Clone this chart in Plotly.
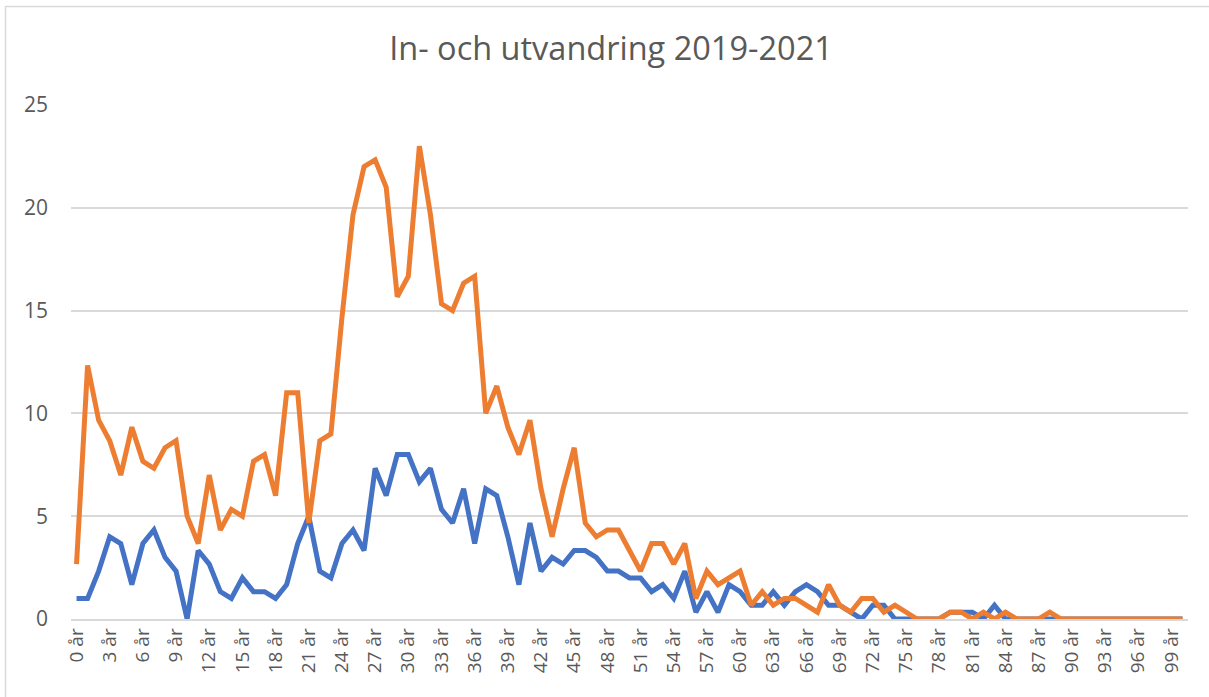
import plotly.graph_objects as go

ages = list(range(101))
categories = [f"{a} år" for a in ages]

utvandring = [
    1.0, 1.0, 2.33, 4.0, 3.67, 1.67, 3.67, 4.33, 3.0, 2.33,
    0.0, 3.33, 2.67, 1.33, 1.0, 2.0, 1.33, 1.33, 1.0, 1.67,
    3.67, 5.0, 2.33, 2.0, 3.67, 4.33, 3.33, 7.33, 6.0, 8.0,
    8.0, 6.67, 7.33, 5.33, 4.67, 6.33, 3.67, 6.33, 6.0, 4.0,
    1.67, 4.67, 2.33, 3.0, 2.67, 3.33, 3.33, 3.0, 2.33, 2.33,
    2.0, 2.0, 1.33, 1.67, 1.0, 2.33, 0.33, 1.33, 0.33, 1.67,
    1.33, 0.67, 0.67, 1.33, 0.67, 1.33, 1.67, 1.33, 0.67, 0.67,
    0.33, 0.0, 0.67, 0.67, 0.0, 0.0, 0.0, 0.0, 0.0, 0.33,
    0.33, 0.33, 0.0, 0.67, 0.0, 0.0, 0.0, 0.0, 0.0, 0.0,
    0.0, 0.0, 0.0, 0.0, 0.0, 0.0, 0.0, 0.0, 0.0, 0.0,
    0.0,
]

invandring = [
    2.67, 12.33, 9.67, 8.67, 7.0, 9.33, 7.67, 7.33, 8.33, 8.67,
    5.0, 3.67, 7.0, 4.33, 5.33, 5.0, 7.67, 8.0, 6.0, 11.0,
    11.0, 4.67, 8.67, 9.0, 14.67, 19.67, 22.0, 22.33, 21.0, 15.67,
    16.67, 23.0, 19.67, 15.33, 15.0, 16.33, 16.67, 10.0, 11.33, 9.33,
    8.0, 9.67, 6.33, 4.0, 6.33, 8.33, 4.67, 4.0, 4.33, 4.33,
    3.33, 2.33, 3.67, 3.67, 2.67, 3.67, 1.0, 2.33, 1.67, 2.0,
    2.33, 0.67, 1.33, 0.67, 1.0, 1.0, 0.67, 0.33, 1.67, 0.67,
    0.33, 1.0, 1.0, 0.33, 0.67, 0.33, 0.0, 0.0, 0.0, 0.33,
    0.33, 0.0, 0.33, 0.0, 0.33, 0.0, 0.0, 0.0, 0.33, 0.0,
    0.0, 0.0, 0.0, 0.0, 0.0, 0.0, 0.0, 0.0, 0.0, 0.0,
    0.0,
]

tick_labels = categories[::3]
title_text = "In- och utvandring 2019-2021"

FONT = "Open Sans"
GREY = "#595959"
GRID = "#d9d9d9"

fig = go.Figure()
fig.add_trace(go.Scatter(x=categories, y=utvandring, mode="lines", name="Utvandring",
                         line=dict(color="#4472C4", width=5)))
fig.add_trace(go.Scatter(x=categories, y=invandring, mode="lines", name="Invandring",
                         line=dict(color="#ED7D31", width=5)))

W, H = 1209, 697
L, R, T, B = 71, 21, 105, 78
pw, ph = W - L - R, H - T - B

fig.update_layout(
    width=W, height=H,
    margin=dict(l=L, r=R, t=T, b=B, autoexpand=False),
    paper_bgcolor="white", plot_bgcolor="white",
    showlegend=False,
    font=dict(family=FONT, color=GREY),
    title=dict(text=title_text, x=611 / W, xref="container", xanchor="center",
               y=1 - 49 / H, yref="container", yanchor="middle",
               font=dict(family=FONT, size=32.5, color=GREY)),
    xaxis=dict(type="category", tickmode="array", tickvals=tick_labels, ticktext=tick_labels,
               range=[-0.5, len(categories) - 0.5],
               tickangle=-90, tickfont=dict(size=19, color=GREY), showgrid=False,
               showline=True, linecolor=GRID, linewidth=1.5, ticks="", zeroline=False,
               automargin=False),
    yaxis=dict(range=[0, 25], dtick=5, showgrid=True, gridcolor=GRID, gridwidth=1.5,
               zeroline=False, showline=False, ticks="", tickfont=dict(size=21, color=GREY),
               ticklabelstandoff=22, automargin=False),
    shapes=[dict(type="rect", xref="paper", yref="paper",
                 x0=(5.5 - L) / pw, x1=(W + 60 - L) / pw,
                 y0=-(H + 60 - (H - B)) / ph, y1=(H - B - 6.5) / ph,
                 line=dict(color=GRID, width=1.5), fillcolor="rgba(0,0,0,0)", layer="below")],
)

fig.write_html("out.html", config={"displayModeBar": False},
               post_script="document.body.style.margin='0';document.body.style.overflow='hidden';")
